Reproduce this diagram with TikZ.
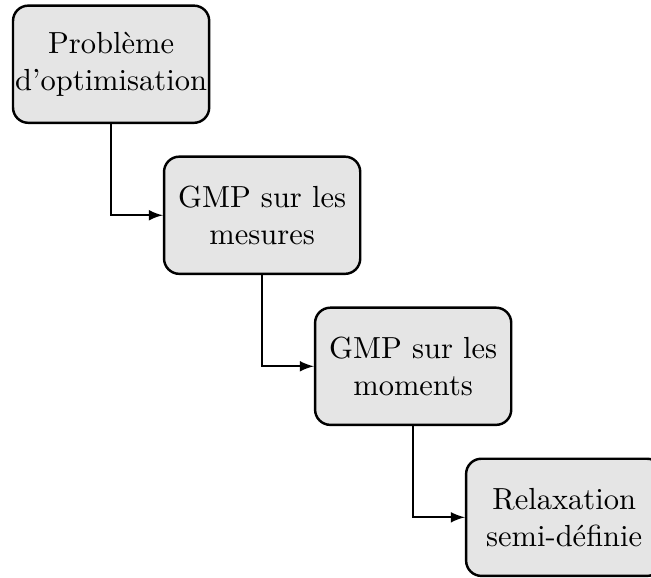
\documentclass[tikz,border=0pt]{standalone}
\usepackage{fontspec}
\usepackage{tikz}

\begin{document}
\begin{tikzpicture}[
		etape/.style={draw, line width=0.8pt, rounded corners=5pt, fill=black!10,
			align=center, inner xsep=0.5pt, minimum width=2.26cm, minimum height=1.35cm},
		fleche/.style={-latex, semithick}]
			%%%%% START %%%%%
			\useasboundingbox (0, 0) rectangle (7.5, -6.65);
			
			\node[etape] (probleme) at (1.28, -0.74) {Problème\\d'optimisation};
			\node[etape] (mesures) at (3.02, -2.48) {GMP sur les\\mesures};
			\node[etape] (moments) at (4.76, -4.22) {GMP sur les\\moments};
			\node[etape] (relax) at (6.50, -5.96) {Relaxation\\semi-définie};
			
			\draw[fleche] (probleme.south) |- (mesures.west);
			\draw[fleche] (mesures.south) |- (moments.west);
			\draw[fleche] (moments.south) |- (relax.west);
			%%%%% END %%%%%
\end{tikzpicture}
\end{document}
